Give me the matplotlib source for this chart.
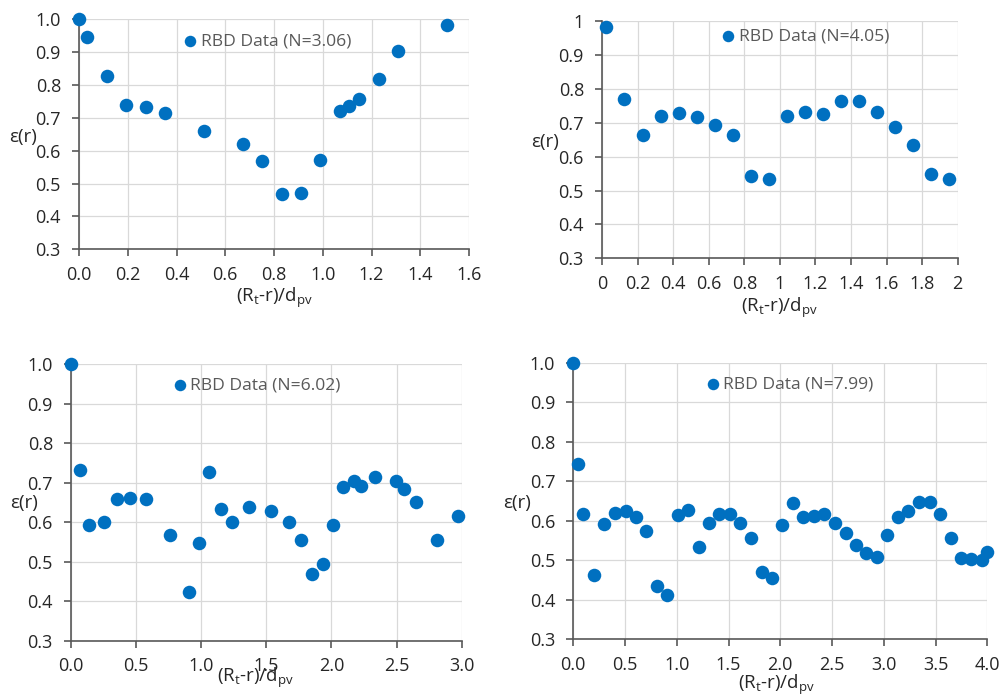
import matplotlib
matplotlib.use('Agg')
import matplotlib.pyplot as plt
import numpy as np

plt.rcParams['font.family'] = ['Open Sans', 'DejaVu Sans']
plt.rcParams['mathtext.default'] = 'regular'

# panel 1, N=3.06
x1 = [0.0, 0.034, 0.114, 0.193, 0.273, 0.353, 0.513, 0.673, 0.752, 0.831,
      0.911, 0.990, 1.071, 1.109, 1.150, 1.229, 1.309, 1.508]
y1 = [1.0, 0.947, 0.828, 0.738, 0.734, 0.714, 0.661, 0.619, 0.570, 0.468,
      0.472, 0.571, 0.721, 0.737, 0.758, 0.818, 0.904, 0.984]

# panel 2, N=4.05
x2 = [0.024, 0.126, 0.229, 0.330, 0.431, 0.532, 0.634, 0.735, 0.836, 0.937,
      1.038, 1.140, 1.241, 1.342, 1.443, 1.544, 1.645, 1.747, 1.848, 1.951]
y2 = [0.982, 0.771, 0.664, 0.720, 0.728, 0.716, 0.695, 0.664, 0.544, 0.535,
      0.720, 0.732, 0.727, 0.764, 0.764, 0.731, 0.688, 0.635, 0.549, 0.534]

# panel 3, N=6.02
x3 = [0.0, 0.072, 0.141, 0.253, 0.351, 0.456, 0.578, 0.758, 0.909, 0.985,
      1.060, 1.149, 1.239, 1.369, 1.536, 1.671, 1.764, 1.853, 1.933, 2.012,
      2.091, 2.173, 2.227, 2.334, 2.493, 2.560, 2.649, 2.811, 2.975]
y3 = [1.0, 0.733, 0.592, 0.601, 0.658, 0.660, 0.658, 0.567, 0.424, 0.547,
      0.727, 0.632, 0.599, 0.637, 0.627, 0.600, 0.555, 0.469, 0.494, 0.592,
      0.690, 0.703, 0.691, 0.714, 0.703, 0.683, 0.652, 0.555, 0.615]

# panel 4, N=7.99
x4 = [0.0, 0.045, 0.097, 0.200, 0.300, 0.403, 0.506, 0.602, 0.705, 0.808,
      0.908, 1.008, 1.111, 1.211, 1.311, 1.411, 1.514, 1.614, 1.717, 1.820,
      1.919, 2.019, 2.122, 2.222, 2.325, 2.425, 2.525, 2.631, 2.731, 2.831,
      2.934, 3.034, 3.137, 3.237, 3.340, 3.446, 3.546, 3.646, 3.746, 3.845,
      3.948, 4.0]
y4 = [1.0, 0.744, 0.617, 0.462, 0.592, 0.618, 0.624, 0.609, 0.574, 0.434,
      0.412, 0.614, 0.626, 0.534, 0.595, 0.616, 0.616, 0.595, 0.556, 0.471,
      0.454, 0.589, 0.645, 0.608, 0.611, 0.616, 0.593, 0.568, 0.539, 0.519,
      0.509, 0.563, 0.609, 0.624, 0.646, 0.646, 0.617, 0.556, 0.504, 0.503,
      0.499, 0.521]

labels = ['RBD Data (N=3.06)', 'RBD Data (N=4.05)',
          'RBD Data (N=6.02)', 'RBD Data (N=7.99)']

blue = '#0070C0'

fig = plt.figure(figsize=(10, 6.97), dpi=100)

# axes rectangles, legend anchors, ylabel / xlabel positions
rects = [[0.079, 0.6423, 0.390, 0.330],
         [0.602, 0.6294, 0.3557, 0.340],
         [0.071, 0.0808, 0.3907, 0.397],
         [0.5733, 0.0832, 0.414, 0.3964]]
leg_pos = [(0.267, 0.903), (0.335, 0.935), (0.26, 0.922), (0.3205, 0.922)]
ylab_pos = [(-0.144, 0.488), (-0.159, 0.492), (-0.121, 0.497), (-0.137, 0.493)]
xlab_pos = [(0.5, -0.212), (0.5, -0.21), (0.473, -0.135), (0.49, -0.166)]

xs = [x1, x2, x3, x4]
ys = [y1, y2, y3, y4]
xlims = [(0, 1.6), (0, 2), (0, 3.0), (0, 4.0)]
xticks = [np.arange(0, 1.61, 0.2), np.arange(0, 2.01, 0.2),
          np.arange(0, 3.01, 0.5), np.arange(0, 4.01, 0.5)]
yticks = np.arange(0.3, 1.01, 0.1)
plain = [False, True, False, False]   # panel 2 uses general number format

for i in range(4):
    ax = fig.add_axes(rects[i])
    ax.scatter(xs[i], ys[i], s=95, color=blue, zorder=3, label=labels[i],
               clip_on=False, linewidths=0)
    ax.set_xlim(*xlims[i])
    ax.set_ylim(0.3, 1.0)
    ax.set_xticks(xticks[i])
    ax.set_yticks(yticks)
    if plain[i]:
        ax.set_xticklabels(['{:g}'.format(round(v, 1)) for v in xticks[i]])
        ax.set_yticklabels(['{:g}'.format(round(v, 1)) for v in yticks])
    else:
        ax.set_xticklabels(['{:.1f}'.format(v) for v in xticks[i]])
        ax.set_yticklabels(['{:.1f}'.format(v) for v in yticks])
    ax.grid(True, color='#D9D9D9', linewidth=0.9)
    ax.set_axisbelow(True)
    for s in ['top', 'right']:
        ax.spines[s].set_visible(False)
    for s in ['left', 'bottom']:
        ax.spines[s].set_color('#595959')
        ax.spines[s].set_linewidth(1.2)
    ax.tick_params(direction='out', length=5, width=1.2, color='#595959',
                   labelsize=13, labelcolor='#262626')
    ax.tick_params(axis='x', pad=7)
    ax.tick_params(axis='y', pad=8)
    ax.set_ylabel('ε(r)', rotation=0, fontsize=13.5, color='#262626',
                  va='center', ha='center')
    ax.yaxis.set_label_coords(*ylab_pos[i])
    ax.set_xlabel('(R$_t$-r)/d$_{pv}$', fontsize=13.5, color='#262626',
                  va='center')
    ax.xaxis.set_label_coords(*xlab_pos[i])
    leg = ax.legend(loc='center left', bbox_to_anchor=leg_pos[i], frameon=False,
                    fontsize=12.6, handlelength=0.8, handletextpad=0.2,
                    borderpad=0, borderaxespad=0, markerscale=0.85)
    for t in leg.get_texts():
        t.set_color('#595959')

plt.savefig('out.png', dpi=100)
